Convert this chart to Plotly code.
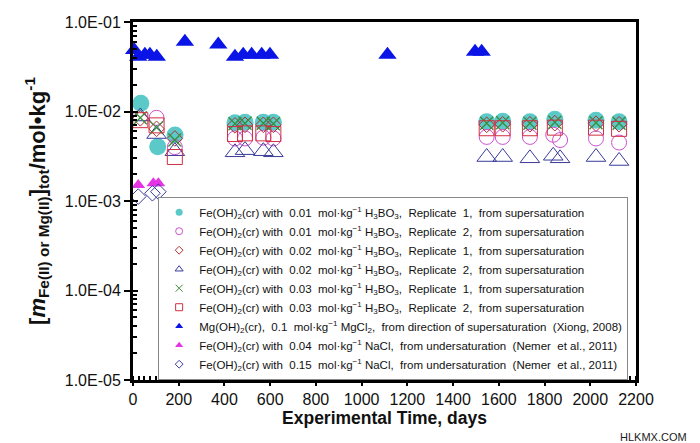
import plotly.graph_objects as go

# ---------------- data ----------------
# Fe(OH)2(cr) with 0.01 mol/kg H3BO3, Replicate 1
b01_r1_days = [34, 108, 184, 446, 490, 570, 614, 1547, 1617, 1736, 1845, 2025, 2126]
b01_r1_conc = [0.0124, 0.00405, 0.00546, 0.0075, 0.0076, 0.0076, 0.0076, 0.0077, 0.0078, 0.0077, 0.0082, 0.0080, 0.0077]
# 0.01 H3BO3, Replicate 2
b01_r2_days = [103, 183, 446, 490, 570, 614, 1547, 1617, 1736, 1838, 1868, 2025, 2126]
b01_r2_conc = [0.0085, 0.0040, 0.0050, 0.0050, 0.0051, 0.0050, 0.0052, 0.0052, 0.0052, 0.0055, 0.0048, 0.0050, 0.0045]
# 0.02 H3BO3, Replicate 1
b02_r1_days = [32, 103, 183, 446, 490, 570, 614, 1547, 1617, 1736, 1845, 2025, 2126]
b02_r1_conc = [0.0084, 0.0064, 0.0050, 0.0070, 0.0071, 0.0071, 0.0071, 0.0071, 0.0072, 0.0072, 0.0074, 0.0073, 0.0072]
# 0.02 H3BO3, Replicate 2
b02_r2_days = [32, 103, 183, 446, 490, 570, 614, 1547, 1617, 1736, 1838, 1868, 2025, 2126]
b02_r2_conc = [0.0088, 0.0056, 0.0036, 0.0035, 0.0037, 0.0036, 0.0035, 0.0031, 0.0031, 0.0030, 0.0032, 0.0030, 0.0031, 0.0028]
# 0.03 H3BO3, Replicate 1
b03_r1_days = [32, 103, 183, 446, 490, 570, 614, 1547, 1617, 1736, 1845, 2025, 2126]
b03_r1_conc = [0.0085, 0.0066, 0.0048, 0.0073, 0.0074, 0.0074, 0.0073, 0.0074, 0.0075, 0.0074, 0.0076, 0.0075, 0.0074]
# 0.03 H3BO3, Replicate 2
b03_r2_days = [32, 103, 183, 446, 490, 570, 614, 1547, 1617, 1736, 1845, 2025, 2126]
b03_r2_conc = [0.0080, 0.0070, 0.0031, 0.0056, 0.0057, 0.0057, 0.0056, 0.0065, 0.0065, 0.0065, 0.0066, 0.0066, 0.0064]
# Mg(OH)2(cr), 0.1 mol/kg MgCl2 (Xiong, 2008)
mg_days = [5, 23, 52, 74, 104, 227, 373, 446, 482, 519, 563, 599, 1113, 1496, 1525]
mg_conc = [0.0487, 0.041, 0.043, 0.043, 0.041, 0.060, 0.056, 0.041, 0.043, 0.043, 0.043, 0.043, 0.043, 0.0466, 0.0466]
# Fe(OH)2(cr) with 0.04 mol/kg NaCl (Nemer et al., 2011)
na04_days = [23, 89, 111]
na04_conc = [0.00151, 0.00158, 0.00158]
# Fe(OH)2(cr) with 0.15 mol/kg NaCl (Nemer et al., 2011)
na15_days = [23, 85, 111]
na15_conc = [0.00112, 0.00122, 0.00127]

y_tickvals = [1e-5, 1e-4, 1e-3, 1e-2, 1e-1]
y_ticktext = ["1.0E-05", "1.0E-04", "1.0E-03", "1.0E-02", "1.0E-01"]

S = "\u00a0 "  # slightly wider word spacing, as in the reference legend
FE = "Fe(OH)<sub>2</sub>(cr) with" + S
MK = S + "mol·kg<sup>−1</sup> "
BO = "H<sub>3</sub>BO<sub>3</sub>," + S


def rep(n):
    return "Replicate" + S + n + "," + S + "from supersaturation"


series = [
    dict(x=b01_r1_days, y=b01_r1_conc, name=FE + "0.01" + MK + BO + rep("1"),
         symbol="circle", size=17, color="rgba(64,192,192,0.85)", line=None, lsize=7),
    dict(x=b01_r2_days, y=b01_r2_conc, name=FE + "0.01" + MK + BO + rep("2"),
         symbol="circle-open", size=15, color="#D050D0", line=1, lsize=7),
    dict(x=b02_r1_days, y=b02_r1_conc, name=FE + "0.02" + MK + BO + rep("1"),
         symbol="diamond-open", size=12, color="#B03030", line=1, lsize=6),
    dict(x=b02_r2_days, y=b02_r2_conc, name=FE + "0.02" + MK + BO + rep("2"),
         symbol="triangle-up-open", size=17, color="#3A3A9A", line=1, lsize=7),
    dict(x=b03_r1_days, y=b03_r1_conc, name=FE + "0.03" + MK + BO + rep("1"),
         symbol="x-thin-open", size=13, color="#3C8C3C", line=1.3, lsize=7),
    dict(x=b03_r2_days, y=b03_r2_conc, name=FE + "0.03" + MK + BO + rep("2"),
         symbol="square-open", size=15, color="#D03040", line=1, lsize=7),
    dict(x=mg_days, y=mg_conc,
         name="Mg(OH)<sub>2</sub>(cr)," + S + "0.1" + MK + "MgCl<sub>2</sub>," + S + "from direction of supersaturation" + S + "(Xiong, 2008)",
         symbol="triangle-up", size=16, color="#0A14E6", line=None, lsize=7),
    dict(x=na04_days, y=na04_conc,
         name=FE + "0.04" + MK + "NaCl," + S + "from undersaturation" + S + "(Nemer" + S + "et al., 2011)",
         symbol="triangle-up", size=12, color="#E633E6", line=None, lsize=7),
    dict(x=na15_days, y=na15_conc,
         name=FE + "0.15" + MK + "NaCl," + S + "from undersaturation" + S + "(Nemer" + S + "et al., 2011)",
         symbol="diamond-open", size=12, color="#3A3A9A", line=1, lsize=6),
]

fig = go.Figure()
for s in series:
    mk = dict(symbol=s["symbol"], size=s["size"], color=s["color"])
    if s["line"]:
        mk["line"] = dict(width=s["line"], color=s["color"])
    fig.add_trace(go.Scatter(x=s["x"], y=s["y"], mode="markers", marker=mk, cliponaxis=False,
                             showlegend=False, hoverinfo="skip"))
# legend entries with small symbols
for s in series:
    mk = dict(symbol=s["symbol"], size=s["lsize"], color=s["color"])
    if s["line"]:
        mk["line"] = dict(width=1, color=s["color"])
    fig.add_trace(go.Scatter(x=[None], y=[None], mode="markers", marker=mk, name=s["name"]))

# dummy traces for overlay axes (cross ticks)
fig.add_trace(go.Scatter(x=[None], y=[None], xaxis="x2", yaxis="y", showlegend=False))
fig.add_trace(go.Scatter(x=[None], y=[None], xaxis="x", yaxis="y2", showlegend=False))

tickfont = dict(family="Liberation Sans, Arial, sans-serif", size=16, color="#111")
minor_y = [k * 10.0 ** e for e in range(-5, -1) for k in range(2, 10)]

fig.update_layout(
    width=700, height=443,
    margin=dict(l=133, r=64, t=22, b=63),
    paper_bgcolor="white", plot_bgcolor="white",
    font=dict(family="Liberation Sans, Arial, sans-serif", color="#111"),
    xaxis=dict(range=[0, 2200], dtick=200, tick0=0, showgrid=False, zeroline=False,
               ticks="outside", ticklen=3, tickwidth=2, tickcolor="black",
               showline=True, linewidth=3, linecolor="black", mirror=True,
               tickfont=tickfont,
               minor=dict(ticks="inside", dtick=25, tick0=0, ticklen=4, tickwidth=1.5, tickcolor="black", showgrid=False),
               title=dict(text="Experimental Time, days", standoff=0,
                          font=dict(size=17.5, color="#111", weight="bold"))),
    xaxis2=dict(range=[0, 2200], dtick=200, tick0=0, overlaying="x", anchor="y", side="bottom",
                showgrid=False, zeroline=False, showticklabels=False,
                ticks="inside", ticklen=5, tickwidth=2, tickcolor="black"),
    yaxis=dict(type="log", range=[-5, -1], tickvals=y_tickvals, ticktext=y_ticktext,
               showgrid=False, zeroline=False,
               ticks="outside", ticklen=6, tickwidth=2, tickcolor="black",
               showline=True, linewidth=3, linecolor="black", mirror=True,
               tickfont=tickfont,
               minor=dict(ticks="inside", tickvals=minor_y, ticklen=4, tickwidth=1.5, tickcolor="black", showgrid=False),
               title=dict(text="[<i>m</i><sub>Fe(II) or Mg(II)</sub>]<sub>tot</sub>/mol•kg<sup>-1</sup>",
                          standoff=14, font=dict(size=22, color="#111", weight="bold"))),
    yaxis2=dict(type="log", range=[-5, -1], tickvals=y_tickvals, overlaying="y", anchor="x", side="left",
                showgrid=False, zeroline=False, showticklabels=False,
                ticks="inside", ticklen=5, tickwidth=2, tickcolor="black"),
    legend=dict(x=0.05, y=0.512, xanchor="left", yanchor="top",
                bgcolor="white", bordercolor="#888", borderwidth=1,
                font=dict(size=11.5, color="#111"), tracegroupgap=0),
    annotations=[dict(text="HLKMX.COM", xref="paper", yref="paper", x=1.035, y=-0.16,
                      xanchor="center", yanchor="middle", showarrow=False,
                      font=dict(size=11, color="#222"))],
)

fig.write_html("out.html", config={"displayModeBar": False},
               post_script="document.body.style.margin='0';")
